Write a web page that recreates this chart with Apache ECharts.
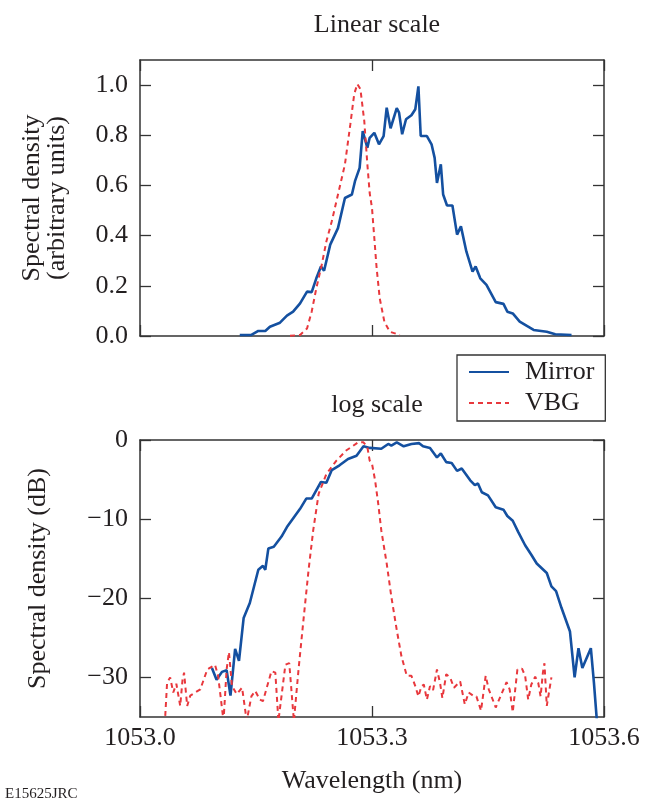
<!DOCTYPE html>
<html>
<head>
<meta charset="utf-8">
<script src="https://cdn.jsdelivr.net/npm/echarts@6/dist/echarts.min.js"></script>
<style>html,body{margin:0;padding:0;background:#fff;}#c{width:652px;height:805px;}</style>
</head>
<body>
<div id="c"></div>
<script>
// ---- data ----
const mirrorLinWl = [1053.129,1053.144,1053.153,1053.162,1053.168,1053.181,1053.190,1053.198,1053.207,1053.216,1053.222,1053.228,1053.234,1053.238,1053.246,1053.256,1053.265,1053.274,1053.278,1053.284,1053.288,1053.294,1053.297,1053.303,1053.309,1053.315,1053.319,1053.324,1053.332,1053.335,1053.339,1053.344,1053.351,1053.356,1053.360,1053.363,1053.371,1053.377,1053.381,1053.384,1053.389,1053.392,1053.397,1053.404,1053.410,1053.415,1053.422,1053.430,1053.434,1053.440,1053.448,1053.460,1053.470,1053.475,1053.482,1053.491,1053.509,1053.526,1053.537,1053.558];
const mirrorLinVal = [0.004,0.004,0.02,0.02,0.037,0.053,0.081,0.097,0.13,0.177,0.175,0.23,0.277,0.26,0.364,0.43,0.55,0.564,0.617,0.67,0.817,0.75,0.79,0.81,0.764,0.797,0.91,0.828,0.908,0.89,0.804,0.864,0.88,0.904,0.995,0.797,0.797,0.764,0.71,0.61,0.684,0.564,0.52,0.52,0.404,0.437,0.337,0.257,0.277,0.23,0.204,0.135,0.128,0.097,0.09,0.057,0.024,0.017,0.007,0.004];

const vbgLinWl = [1053.194,1053.207,1053.216,1053.222,1053.228,1053.235,1053.241,1053.248,1053.256,1053.265,1053.272,1053.277,1053.281,1053.285,1053.290,1053.294,1053.297,1053.300,1053.303,1053.306,1053.310,1053.316,1053.323,1053.336];
const vbgLinVal = [0.001,0.004,0.03,0.097,0.19,0.284,0.377,0.457,0.564,0.684,0.844,0.964,1.004,0.984,0.857,0.684,0.57,0.51,0.39,0.27,0.15,0.057,0.017,0.004];

const mirrorDbWl = [1053.093,1053.099,1053.106,1053.112,1053.117,1053.123,1053.128,1053.134,1053.142,1053.153,1053.159,1053.162,1053.166,1053.173,1053.183,1053.190,1053.207,1053.215,1053.222,1053.234,1053.241,1053.248,1053.258,1053.269,1053.280,1053.289,1053.297,1053.312,1053.321,1053.325,1053.332,1053.341,1053.351,1053.361,1053.366,1053.375,1053.384,1053.389,1053.396,1053.403,1053.410,1053.416,1053.427,1053.433,1053.437,1053.442,1053.450,1053.460,1053.470,1053.475,1053.482,1053.489,1053.498,1053.506,1053.513,1053.526,1053.532,1053.538,1053.545,1053.556,1053.562,1053.567,1053.572,1053.583,1053.587,1053.592];
const mirrorDbVal = [-28.8,-30.3,-29.3,-29.1,-32.3,-26.4,-27.9,-22.5,-20.6,-16.4,-15.9,-16.4,-13.7,-13.5,-12.2,-11.0,-8.7,-7.4,-7.4,-5.3,-5.4,-3.8,-3.2,-2.4,-2.0,-0.8,-1.0,-1.1,-0.5,-0.7,-0.3,-0.8,-0.5,-0.4,-0.8,-1.0,-2.2,-1.7,-2.8,-2.9,-3.9,-3.6,-5.1,-5.7,-5.5,-6.6,-7.0,-8.5,-8.8,-9.6,-10.2,-11.6,-13.3,-14.5,-15.6,-16.8,-18.5,-19.1,-21.2,-24.2,-30.0,-26.3,-28.8,-26.3,-30.7,-37.0];

const vbgDbWl = [1053.032,1053.035,1053.039,1053.043,1053.047,1053.052,1053.055,1053.057,1053.061,1053.065,1053.078,1053.087,1053.097,1053.101,1053.108,1053.112,1053.115,1053.119,1053.125,1053.132,1053.138,1053.144,1053.149,1053.155,1053.159,1053.170,1053.175,1053.179,1053.188,1053.193,1053.199,1053.205,1053.211,1053.218,1053.224,1053.231,1053.241,1053.254,1053.267,1053.282,1053.289,1053.294,1053.297,1053.300,1053.304,1053.308,1053.312,1053.319,1053.325,1053.332,1053.338,1053.345,1053.351,1053.356,1053.360,1053.364,1053.367,1053.371,1053.375,1053.379,1053.384,1053.388,1053.391,1053.396,1053.401,1053.406,1053.414,1053.420,1053.425,1053.432,1053.435,1053.441,1053.447,1053.451,1053.460,1053.474,1053.478,1053.482,1053.488,1053.494,1053.498,1053.502,1053.506,1053.511,1053.515,1053.518,1053.521,1053.523,1053.526,1053.532];
const vbgDbVal = [-36,-30.7,-30.0,-31.9,-30.8,-33.6,-30.3,-29.4,-33.6,-32.3,-31.5,-29.0,-28.4,-29.8,-35.5,-29.0,-26.8,-31.1,-32.1,-31.3,-35.5,-32.4,-31.7,-32.8,-33.0,-29.2,-29.4,-35.5,-28.4,-28.2,-35.5,-29.0,-23.1,-16.4,-11.4,-6.8,-4.3,-2.6,-1.3,-0.3,-0.3,-0.9,-2.6,-3.0,-5.1,-8.0,-11.4,-15.6,-19.8,-24.0,-27.3,-29.8,-29.8,-31.1,-32.4,-31.1,-30.9,-32.8,-31.1,-31.6,-29.0,-30.7,-32.6,-29.6,-30.0,-31.3,-30.5,-33.4,-31.9,-32.4,-32.4,-34.2,-29.8,-31.5,-33.8,-30.6,-31.5,-34.4,-29.0,-28.9,-29.8,-32.8,-30.9,-29.9,-30.7,-32.4,-29.4,-28.2,-33.6,-30.0];

const xTicks = [1053.0, 1053.3, 1053.6];
const linTicks = [0, 0.2, 0.4, 0.6, 0.8, 1.0];
const dbTicks = [-30, -20, -10, 0];

// ---- chart ----
const FONT = '"Liberation Serif","DejaVu Serif",serif';
const INK = '#231f20';
const BLUE = '#1450a0';
const RED = '#e8383d';
const zip = (a, b) => a.map((v, i) => [v, b[i]]);

const axLine = { show: true, onZero: false, lineStyle: { color: '#333', width: 1.5 } };
const tickIn = (vals) => ({ show: true, inside: true, length: 11, lineStyle: { color: '#333', width: 1.3 }, customValues: vals });
const lbl = { fontFamily: FONT, fontSize: 26, color: INK };

function xAx(grid, pos, labels) {
  return {
    type: 'value', gridIndex: grid, position: pos, min: 1053.0, max: 1053.6,
    axisLine: axLine, axisTick: tickIn(xTicks), splitLine: { show: false },
    axisLabel: labels ? Object.assign({ show: true, margin: 8, customValues: xTicks, formatter: v => v.toFixed(1) }, lbl) : { show: false }
  };
}

const chart = echarts.init(document.getElementById('c'), null, { renderer: 'canvas' });
chart.setOption({
  animation: false,
  backgroundColor: '#fff',
  title: [
    { text: 'Linear scale', left: 372, top: 7, textAlign: 'center', textStyle: { fontFamily: FONT, fontSize: 26, fontWeight: 'normal', color: INK } },
    { text: 'log scale', left: 372, top: 387, textAlign: 'center', textStyle: { fontFamily: FONT, fontSize: 26, fontWeight: 'normal', color: INK } }
  ],
  legend: {
    data: ['Mirror', 'VBG'], orient: 'vertical', left: 457, top: 355,
    borderColor: '#333', borderWidth: 1.3, padding: [3, 11, 4, 11],
    itemWidth: 40, itemHeight: 14, itemGap: 3,
    itemStyle: { opacity: 0 },
    textStyle: { fontFamily: FONT, fontSize: 26, color: INK, lineHeight: 28, padding: [0, 0, 0, 11] }
  },
  grid: [
    { left: 140, top: 60, width: 464, height: 276 },
    { left: 140, top: 440, width: 464, height: 277 }
  ],
  xAxis: [
    xAx(0, 'bottom', false), xAx(0, 'top', false),
    Object.assign(xAx(1, 'bottom', true), { name: 'Wavelength (nm)', nameLocation: 'middle', nameGap: 51, nameTextStyle: { fontFamily: FONT, fontSize: 26, color: INK, lineHeight: 26 } }),
    xAx(1, 'top', false)
  ],
  yAxis: [
    { type: 'value', gridIndex: 0, position: 'left', min: 0, max: 1.1,
      axisLine: axLine, axisTick: tickIn(linTicks), splitLine: { show: false },
      axisLabel: Object.assign({ margin: 12, customValues: linTicks, formatter: v => v.toFixed(1) }, lbl),
      name: 'Spectral density\n(arbitrary units)', nameLocation: 'middle', nameRotate: 90, nameGap: 70,
      nameTextStyle: { fontFamily: FONT, fontSize: 26, color: INK, lineHeight: 25 } },
    { type: 'value', gridIndex: 0, position: 'right', min: 0, max: 1.1,
      axisLine: axLine, axisTick: tickIn(linTicks), splitLine: { show: false }, axisLabel: { show: false } },
    { type: 'value', gridIndex: 1, position: 'left', min: -35, max: 0,
      axisLine: axLine, axisTick: tickIn(dbTicks), splitLine: { show: false },
      axisLabel: Object.assign({ margin: 12, customValues: dbTicks, formatter: v => String(v).replace('-', '\u2212') }, lbl),
      name: 'Spectral density (dB)', nameLocation: 'middle', nameRotate: 90, nameGap: 89,
      nameTextStyle: { fontFamily: FONT, fontSize: 26, color: INK, lineHeight: 26 } },
    { type: 'value', gridIndex: 1, position: 'right', min: -35, max: 0,
      axisLine: axLine, axisTick: tickIn(dbTicks), splitLine: { show: false }, axisLabel: { show: false } }
  ],
  series: [
    { name: 'Mirror', type: 'line', xAxisIndex: 0, yAxisIndex: 0, data: zip(mirrorLinWl, mirrorLinVal), symbol: 'none', z: 3,
      lineStyle: { color: BLUE, width: 2.6 }, itemStyle: { color: BLUE } },
    { name: 'VBG', type: 'line', xAxisIndex: 0, yAxisIndex: 0, data: zip(vbgLinWl, vbgLinVal), symbol: 'none', z: 4,
      lineStyle: { color: RED, width: 2, type: [5, 4] }, itemStyle: { color: RED } },
    { name: 'Mirror', type: 'line', xAxisIndex: 2, yAxisIndex: 2, data: zip(mirrorDbWl, mirrorDbVal), symbol: 'none', z: 3,
      lineStyle: { color: BLUE, width: 2.6 }, itemStyle: { color: BLUE } },
    { name: 'VBG', type: 'line', xAxisIndex: 2, yAxisIndex: 2, data: zip(vbgDbWl, vbgDbVal), symbol: 'none', z: 4,
      lineStyle: { color: RED, width: 2, type: [5, 4] }, itemStyle: { color: RED } }
  ],
  graphic: [
    { type: 'text', left: 5, top: 787, style: { text: 'E15625JRC', fontFamily: FONT, fontSize: 15, fill: INK } }
  ]
});
</script>
</body>
</html>
